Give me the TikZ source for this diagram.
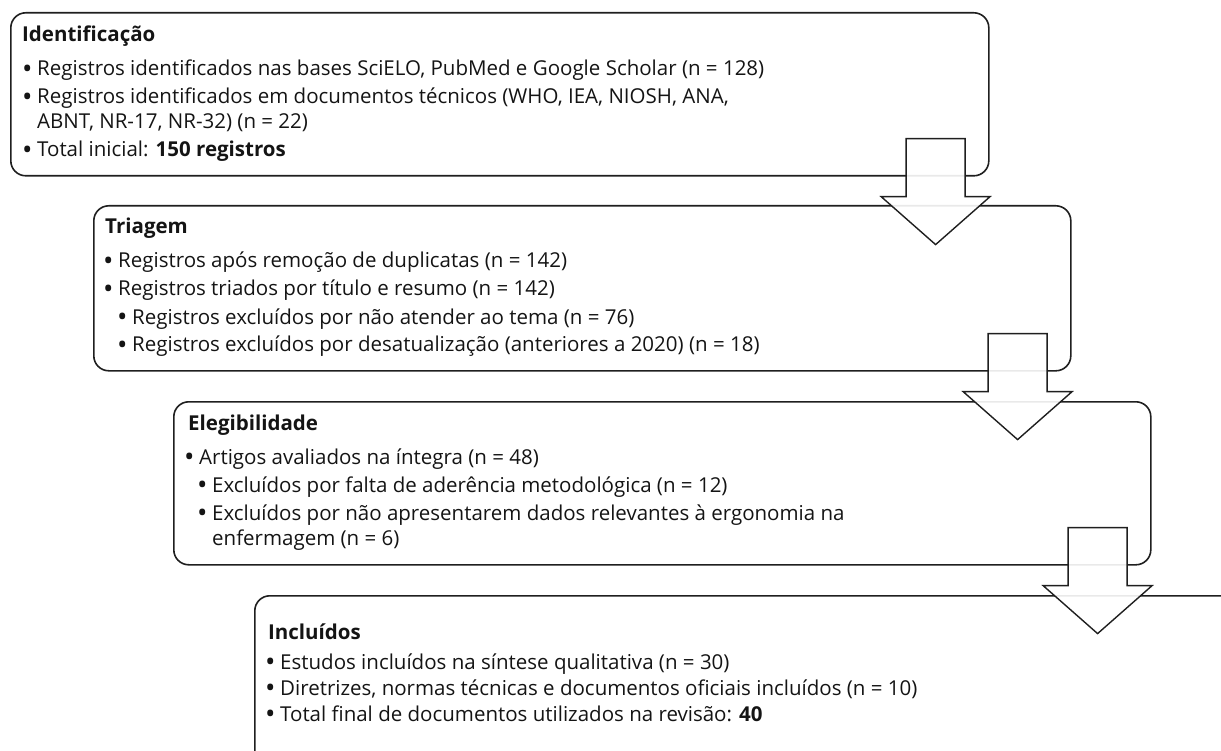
\documentclass[tikz,border=0pt]{standalone}
\usepackage{fontspec}
\setmainfont{Open Sans}
\usetikzlibrary{calc}
\newcommand\bul{\makebox[15pt][l]{\raisebox{-2.4pt}{\scalebox{1.35}{•}}}}
\begin{document}
\begin{tikzpicture}[x=1pt,y=-1pt,
  box/.style={draw=black!88, line width=1.6pt, rounded corners=15pt, anchor=north west, inner sep=0pt},
  blk/.style={draw=black!88, line width=1.4pt, fill=white, fill opacity=0.9, line join=miter},
  txt/.style={anchor=base west, inner sep=0pt, text=black!92, font=\fontsize{20.5}{24}\selectfont},
  ttl/.style={txt, font=\fontsize{20.5}{24}\selectfont\bfseries}]
\clip (0,0) rectangle (1221,751);
% boxes
\node[box, minimum width=978pt, minimum height=163pt] (b1) at (10,12) {};
\node[box, minimum width=977pt, minimum height=165pt] (b2) at (93,205) {};
\node[box, minimum width=977pt, minimum height=163pt] (b3) at (173,401) {};
\node[box, minimum width=990pt, minimum height=200pt] (b4) at (254,595) {};
% arrows
\newcommand\blockarr[1]{%
 \draw[blk] ($(#1.south east)+(-83.5,-38)$) -- ++(59,0) -- ++(0,58) -- ++(25,0)
   -- ++(-54.5,48) -- ++(-54.5,-48) -- ++(25,0) -- cycle;}
\blockarr{b1}
\blockarr{b2}
\blockarr{b3}
% box 1
\node[ttl] (t1) at (22,42) {Identificação};
\node[txt] (t1a) at (22,76) {\bul Registros identificados nas bases SciELO, PubMed e Google Scholar (n = 128)};
\node[txt] (t1b) at (22,104) {\bul Registros identificados em documentos técnicos (WHO, IEA, NIOSH, ANA,};
\node[txt] (t1c) at (37,129) {ABNT, NR-17, NR-32) (n = 22)};
\node[txt] (t1d) at (22,157) {\bul Total inicial: \textbf{150 registros}};
% box 2
\node[ttl] (t2) at (105,234) {Triagem};
\node[txt] (t2a) at (103,268) {\bul Registros após remoção de duplicatas (n = 142)};
\node[txt] (t2b) at (103,296) {\bul Registros triados por título e resumo (n = 142)};
\node[txt] (t2c) at (117,324) {\bul Registros excluídos por não atender ao tema (n = 76)};
\node[txt] (t2d) at (117,352) {\bul Registros excluídos por desatualização (anteriores a 2020) (n = 18)};
% box 3
\node[ttl] (t3) at (188,430) {Elegibilidade};
\node[txt] (t3a) at (184,464) {\bul Artigos avaliados na íntegra (n = 48)};
\node[txt] (t3b) at (197,492) {\bul Excluídos por falta de aderência metodológica (n = 12)};
\node[txt] (t3c) at (197,520) {\bul Excluídos por não apresentarem dados relevantes à ergonomia na};
\node[txt] (t3d) at (212,545) {enfermagem (n = 6)};
% box 4
\node[ttl] (t4) at (268,639) {Incluídos};
\node[txt] (t4a) at (265,669) {\bul Estudos incluídos na síntese qualitativa (n = 30)};
\node[txt] (t4b) at (265,695) {\bul Diretrizes, normas técnicas e documentos oficiais incluídos (n = 10)};
\node[txt] (t4c) at (265,721) {\bul Total final de documentos utilizados na revisão: \textbf{40}};
\end{tikzpicture}
\end{document}
